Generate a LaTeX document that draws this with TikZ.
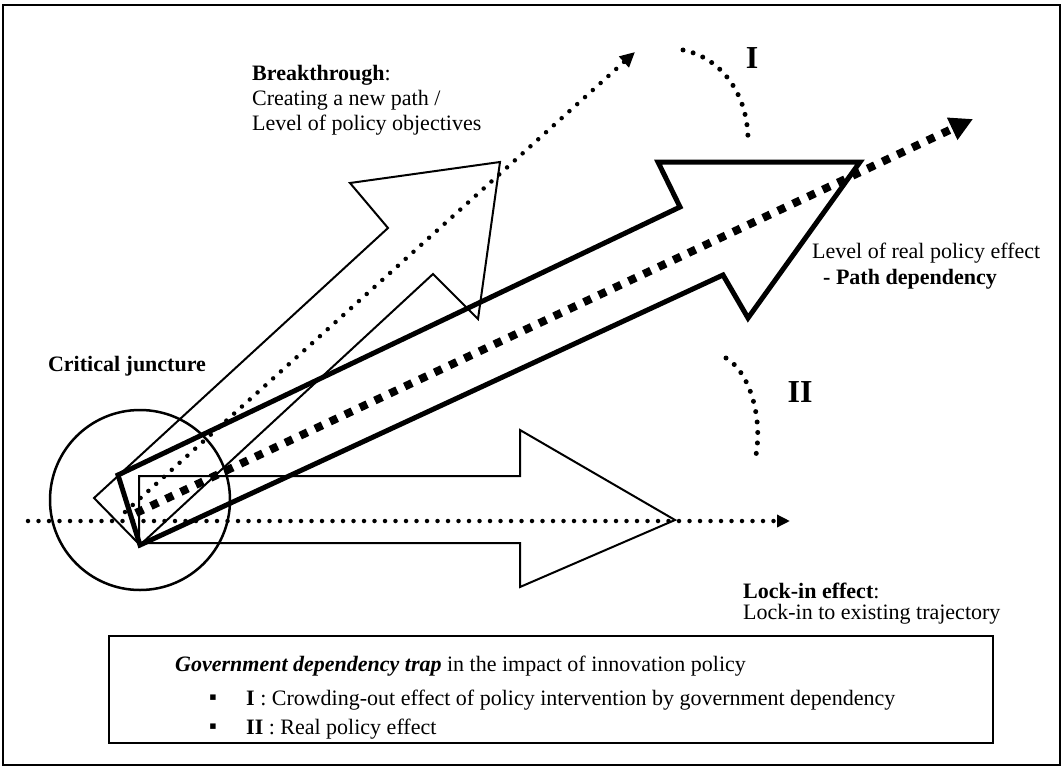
\documentclass[tikz,border=0pt]{standalone}
\usepackage{fontspec}
\setmainfont{Liberation Serif}
\usetikzlibrary{arrows.meta}

\tikzset{
  thinarrow/.style={line width=2pt, line join=miter},
  thickarrow/.style={line width=5pt, line join=miter},
  smalldots/.style={line width=4.5pt, line cap=round, dash pattern=on 0pt off 10.5pt},
  squaredots/.style={line width=8pt, dash pattern=on 8pt off 8.5pt},
  arcdots/.style={line width=5pt, line cap=round, dash pattern=on 0pt off 10.5pt},
  txt/.style={font=\fontsize{22}{26}\selectfont, inner sep=0pt, anchor=west},
  roman/.style={font=\fontsize{32}{36}\selectfont\bfseries, inner sep=0pt},
}

\begin{document}
\begin{tikzpicture}[x=1pt, y=-1pt]
\useasboundingbox (0,0) rectangle (1064,768);
\draw[line width=2pt] (3,5) rectangle (1060,765); % frame

% critical juncture
\draw[line width=2.5pt] (140,500) circle (90);

% arrows
\draw[thinarrow] (94,498) -- (388,228) -- (350,183) -- (500,162) -- (478,319) -- (433,274) -- (140,545) -- cycle; % breakthrough
\draw[thinarrow] (139,476) -- (520,476) -- (520,430) -- (675,520) -- (520,587) -- (520,543) -- (139,543) -- cycle; % lock-in
\draw[thickarrow] (118,475) -- (680,207) -- (658,162) -- (860,162) -- (748,318) -- (723,275) -- (140,545) -- cycle; % path dependency

% dotted trajectories
\coordinate (lockS) at (28,521);
\coordinate (lockE) at (790,521);
\coordinate (breakS) at (125,512);
\coordinate (breakE) at (635,52);
\coordinate (pathS) at (136,513);
\coordinate (pathE) at (973,119);
\draw[smalldots, -{Triangle[length=13pt, width=12pt]}] (lockS) -- (lockE);
\draw[smalldots, -{Triangle[length=15pt, width=14pt]}] (breakS) -- (breakE);
\draw[squaredots, -{Triangle[length=23pt, width=23pt]}] (pathS) -- (pathE);

% gaps I and II
\draw[arcdots] (683,50) .. controls (722,58) and (748,95) .. (748,140);
\draw[arcdots] (726,358) .. controls (750,372) and (764,420) .. (755,460);
\node[roman] (gapI) at (752,58) {I};
\node[roman] (gapII) at (800,392) {II};

% labels
\node[txt] (bt1) at (252,75) {\textbf{Breakthrough}:};
\node[txt] (bt2) at (252,100) {Creating a new path /};
\node[txt] (bt3) at (252,125) {Level of policy objectives};
\node[txt, anchor=center] (cj) at (127,366) {\textbf{Critical juncture}};
\node[txt] (pd1) at (812,253) {Level of real policy effect};
\node[txt] (pd2) at (823,279) {\textbf{- Path dependency}};
\node[txt] (li1) at (743,591) {\textbf{Lock-in effect}:};
\node[txt] (li2) at (743,614) {Lock-in to existing trajectory};

% legend
\draw[line width=2pt] (109,636) rectangle (993,743);
\node[txt] (lg0) at (175,666) {\textbf{\textit{Government dependency trap}} in the impact of innovation policy};
\node[txt] (lgb1) at (209,700) {▪};
\node[txt] (lg1) at (246,700) {\textbf{I} : Crowding-out effect of policy intervention by government dependency};
\node[txt] (lgb2) at (209,729) {▪};
\node[txt] (lg2) at (246,729) {\textbf{II} : Real policy effect};
\end{tikzpicture}
\end{document}
